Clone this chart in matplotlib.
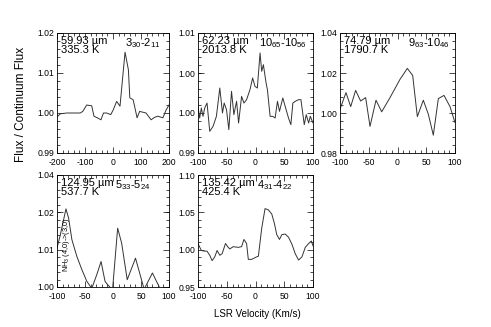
import matplotlib
matplotlib.use("Agg")
import matplotlib.pyplot as plt
from matplotlib.ticker import AutoMinorLocator, FixedLocator

plt.rcParams["font.family"] = ["Liberation Sans", "DejaVu Sans"]
plt.rcParams["mathtext.fontset"] = "custom"
plt.rcParams["mathtext.rm"] = "Liberation Sans"
plt.rcParams["mathtext.it"] = "Liberation Sans"

# panel 1: 59.93 um
v1 = [-200, -188, -165, -117, -108, -94, -76, -68, -56, -43, -34, -23, -8, 1, 13, 25,
      43, 55, 60, 72, 86, 95, 118, 136, 148, 160, 178, 190, 200]
f1 = [0.9990, 0.9998, 1.0000, 1.0000, 1.0004, 1.0020, 1.0018, 0.9992, 0.9988, 0.9983,
      1.0000, 1.0000, 0.9996, 1.0008, 1.0029, 1.0017, 1.0152, 1.0108, 1.0038, 1.0033,
      0.9988, 1.0004, 1.0000, 0.9983, 0.9989, 0.9992, 0.9988, 1.0008, 1.0020]

# panel 2: 62.23 um
v2 = [-100, -97.1, -94.2, -91.3, -88.3, -84.3, -79.6, -73.8, -68.0, -62.1, -57.4, -54.5,
      -50.4, -46.4, -41.7, -37.6, -32.9, -29.4, -24.2, -20.1, -15.5, -9.6, -5.0, -0.9,
      3.2, 7.9, 10.8, 13.7, 18.4, 20.7, 25.4, 30.0, 34.1, 38.2, 41.7, 47.5, 51.6, 57.4,
      61.5, 65.0, 69.1, 74.9, 79.0, 84.8, 88.3, 92.4, 95.3, 100]
f2 = [0.99778, 0.99583, 0.99750, 0.99611, 0.99750, 0.99833, 0.99361, 0.99444, 0.99611,
      1.00083, 0.99667, 0.99833, 0.99722, 0.99389, 1.00028, 0.99639, 0.99861, 0.99500,
      0.99944, 0.99833, 0.99889, 1.00056, 1.00250, 1.00111, 1.00083, 1.00667, 1.00361,
      1.00472, 1.00167, 1.00056, 0.99611, 0.99611, 0.99583, 0.99861, 0.99694, 0.99917,
      0.99778, 0.99583, 0.99472, 0.99833, 0.99861, 0.99889, 0.99889, 0.99472, 0.99639,
      0.99500, 0.99611, 0.99500]

# panel 3: 74.79 um
v3 = [-100, -89.6, -81.4, -72.8, -64.1, -55.4, -47.8, -37.4, -27.5, -13.0, 4.3, 17.1,
      26.4, 34.5, 44.9, 53.6, 62.3, 71.0, 80.9, 91.3, 100]
f3 = [1.0019, 1.0102, 1.0032, 1.0113, 1.0060, 1.0077, 0.9933, 1.0064, 1.0006, 1.0077,
      1.0168, 1.0223, 1.0188, 0.9982, 1.0064, 0.9994, 0.9889, 1.0072, 1.0088, 1.0032,
      0.9952]

# panel 4: 124.95 um
v4 = [-100, -94.1, -84.0, -79.3, -73.4, -64.5, -55.6, -46.7, -37.9, -29.0, -21.3, -14.2,
      -9.5, -3.6, -0.6, 8.3, 15.4, 25.4, 40.2, 55.6, 70.4, 84.6]
f4 = [1.0139, 1.0186, 1.0279, 1.0246, 1.0169, 1.0109, 1.0062, 1.0020, 0.9995, 1.0044,
      1.0091, 1.0020, 1.0008, 0.9996, 0.9996, 1.0210, 1.0157, 1.0026, 1.0103, 0.9992,
      1.0050, 0.9992]

# panel 5: 135.42 um
v5 = [-100, -94.2, -88.3, -84.3, -79.6, -75.5, -70.8, -66.8, -62.1, -58.0, -52.2, -47.5,
      -44.6, -38.8, -30.0, -24.2, -20.1, -15.5, -12.5, -6.7, 2.0, 5.0, 10.8, 16.6, 22.4,
      28.3, 32.9, 37.0, 41.7, 45.8, 51.6, 57.4, 63.3, 69.1, 74.9, 80.8, 86.6, 92.4, 97.1, 100]
f5 = [1.0082, 0.9989, 0.9980, 0.9980, 0.9925, 0.9853, 0.9904, 0.9989, 0.9925, 0.9946,
      1.0082, 1.0031, 1.0010, 1.0040, 1.0031, 1.0040, 1.0137, 1.0082, 0.9870, 0.9870,
      0.9904, 0.9912, 1.0286, 1.0550, 1.0533, 1.0477, 1.0350, 1.0201, 1.0137, 1.0201,
      1.0210, 1.0167, 1.0074, 0.9946, 0.9861, 0.9904, 1.0031, 1.0082, 1.0116, 1.0052]

wavelengths = ["59.93 µm", "62.23 µm", "74.79 µm", "124.95 µm", "135.42 µm"]
energies = ["335.3 K", "2013.8 K", "1790.7 K", "537.7 K", "425.4 K"]
transitions = [r"$3_{30}$-$2_{11}$", r"$10_{65}$-$10_{56}$", r"$9_{63}$-$10_{46}$",
               r"$5_{33}$-$5_{24}$", r"$4_{31}$-$4_{22}$"]
trans_x = [0.605, 0.53, 0.59, 0.52, 0.51]
xlims = [(-200, 200), (-100, 100), (-100, 100), (-100, 100), (-100, 100)]
xticks = [[-200, -100, 0, 100, 200]] + [[-100, -50, 0, 50, 100]] * 4
yticks = [[0.99, 1.00, 1.01, 1.02],
          [0.99, 0.99667, 1.00333, 1.01],
          [0.98, 1.00, 1.02, 1.04],
          [1.00, 1.01333, 1.02667, 1.04],
          [0.95, 1.00, 1.05, 1.10]]
ytick_labels = [["0.99", "1.00", "1.01", "1.02"],
                ["0.99", "1.00", "1.00", "1.01"],
                ["0.98", "1.00", "1.02", "1.04"],
                ["1.00", "1.01", "1.02", "1.04"],
                ["0.95", "1.00", "1.05", "1.10"]]

vels = [v1, v2, v3, v4, v5]
fluxes = [f1, f2, f3, f4, f5]

W, H = 491, 327
fig = plt.figure(figsize=(W / 100, H / 100), dpi=100)

# axes boxes in pixels: left, top, right, bottom
boxes = [(57, 33, 169, 153), (198, 33, 313, 153), (340, 33, 455, 153),
         (57, 175, 169, 287), (198, 175, 313, 287)]

for i in range(5):
    l, t, r, b = boxes[i]
    ax = fig.add_axes([l / W, 1 - b / H, (r - l) / W, (b - t) / H])
    ax.plot(vels[i], fluxes[i], color="#333333", lw=0.7)
    ax.set_xlim(*xlims[i])
    ax.set_ylim(yticks[i][0], yticks[i][-1])
    ax.set_xticks(xticks[i])
    ax.set_xticklabels([str(x) for x in xticks[i]])
    ax.yaxis.set_major_locator(FixedLocator(yticks[i]))
    ax.set_yticklabels(ytick_labels[i])
    ax.xaxis.set_minor_locator(AutoMinorLocator(5))
    ax.yaxis.set_minor_locator(AutoMinorLocator(5))
    ax.tick_params(which="both", direction="in", top=True, right=True,
                   labelsize=6.2, pad=2, width=0.5)
    ax.tick_params(axis="x", which="both", pad=3.5)
    ax.tick_params(which="major", length=4)
    ax.tick_params(which="minor", length=2)
    for s in ax.spines.values():
        s.set_linewidth(0.6)
    ax.text(0.035, 0.975, wavelengths[i] + "\n" + energies[i], transform=ax.transAxes,
            va="top", ha="left", fontsize=8, linespacing=0.85)
    ax.text(trans_x[i], 0.97, transitions[i], transform=ax.transAxes,
            va="top", ha="left", fontsize=8)
    if i == 3:
        ax.text(-83, 1.015, r"NH$_3$ (4,0)->(3,0)", rotation=90, ha="center",
                va="center", fontsize=5.3)

fig.text(21 / W, 1 - 104 / H, "Flux / Continuum Flux", rotation=90,
         ha="center", va="center", fontsize=8.5)
fig.text(257 / W, 1 - 314 / H, "LSR Velocity (Km/s)", ha="center", va="center",
         fontsize=7)

fig.savefig("out.png", dpi=100)
